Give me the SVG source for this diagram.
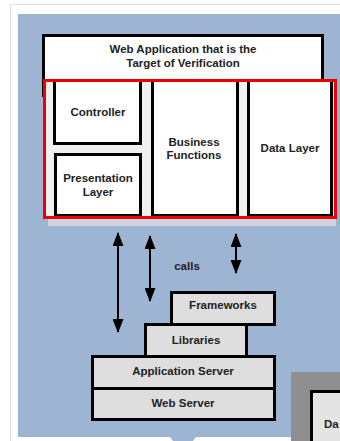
<svg xmlns="http://www.w3.org/2000/svg" width="340" height="441" viewBox="0 0 340 441">
  <style>
    .lbl { font-family: "Liberation Sans", Arial, sans-serif; font-weight: bold; font-size: 11.5px; fill: #222222; text-anchor: middle; }
    .col { fill: #ffffff; stroke: #000000; stroke-width: 3; }
    .stack { fill: #dedede; stroke: #000000; stroke-width: 3; }
    .arrow { stroke: #000000; stroke-width: 2; fill: none; }
  </style>
  <defs>
    <marker id="head" viewBox="0 0 14 11" refX="13" refY="5.5" markerWidth="14" markerHeight="11" markerUnits="userSpaceOnUse" orient="auto-start-reverse">
      <path d="M0,0 L14,5.5 L0,11 Z" fill="#000000"/>
    </marker>
  </defs>

  <!-- page frame -->
  <rect x="0" y="0" width="340" height="441" fill="#ffffff"/>
  <path d="M10.5,441 V4.5 H340" fill="none" stroke="#dedede" stroke-width="1"/>

  <!-- blue backdrop -->
  <rect x="18" y="14" width="322" height="423" fill="#9db4d2"/>
  <path d="M170,437 H196 L193,441 H173 Z" fill="#9db4d2"/>

  <!-- web application container -->
  <g id="web-app">
    <rect x="43.5" y="35.5" width="279" height="60" fill="#ffffff" stroke="#000000" stroke-width="3"/>
    <text class="lbl" x="183" y="53">Web Application that is the</text>
    <text class="lbl" x="183" y="67">Target of Verification</text>
  </g>

  <!-- shadow below the highlighted layers -->
  <rect x="48" y="218" width="288" height="8" fill="#cdd5df"/>
  <!-- panel behind the layer columns -->
  <rect x="44" y="80" width="292" height="138" fill="#f1f1f1"/>

  <g id="controller">
    <rect class="col" x="54.5" y="80.5" width="86" height="63"/>
    <text class="lbl" x="98" y="116">Controller</text>
  </g>
  <g id="presentation-layer">
    <rect class="col" x="55.5" y="154.5" width="85" height="61"/>
    <text class="lbl" x="98" y="182">Presentation</text>
    <text class="lbl" x="98" y="196">Layer</text>
  </g>
  <g id="business-functions">
    <rect class="col" x="152.5" y="80.5" width="85" height="135"/>
    <text class="lbl" x="194" y="146">Business</text>
    <text class="lbl" x="194" y="159">Functions</text>
  </g>
  <g id="data-layer">
    <rect class="col" x="248.5" y="80.5" width="83" height="135"/>
    <text class="lbl" x="290" y="152">Data Layer</text>
  </g>

  <!-- highlight frame -->
  <rect x="44.5" y="80.5" width="291" height="137" fill="none" stroke="#ee0000" stroke-width="3"/>

  <!-- platform stack -->
  <g id="frameworks">
    <rect class="stack" x="171.5" y="292.5" width="103" height="32"/>
    <text class="lbl" x="223" y="309">Frameworks</text>
  </g>
  <g id="libraries">
    <rect class="stack" x="145.5" y="324.5" width="101" height="32"/>
    <text class="lbl" x="196" y="344">Libraries</text>
  </g>
  <g id="application-server">
    <rect class="stack" x="92.5" y="356.5" width="182" height="32"/>
    <text class="lbl" x="183" y="375">Application Server</text>
  </g>
  <g id="web-server">
    <rect class="stack" x="92.5" y="388.5" width="182" height="31"/>
    <text class="lbl" x="183" y="407">Web Server</text>
  </g>

  <!-- partially visible neighbour -->
  <g id="database">
    <rect x="291" y="372" width="49" height="69" fill="#8f8f8f"/>
    <rect x="311.5" y="391.5" width="40" height="60" fill="#e4e4e4" stroke="#000000" stroke-width="3"/>
    <text class="lbl" x="324" y="428" style="text-anchor:start">Da</text>
  </g>

  <!-- call arrows -->
  <g id="connectors">
    <line class="arrow" x1="118" y1="233" x2="118" y2="332" marker-start="url(#head)" marker-end="url(#head)"/>
    <line class="arrow" x1="150" y1="236" x2="150" y2="301" marker-start="url(#head)" marker-end="url(#head)"/>
    <line class="arrow" x1="236" y1="234" x2="236" y2="273" marker-start="url(#head)" marker-end="url(#head)"/>
    <text class="lbl" x="187" y="270">calls</text>
  </g>
</svg>
